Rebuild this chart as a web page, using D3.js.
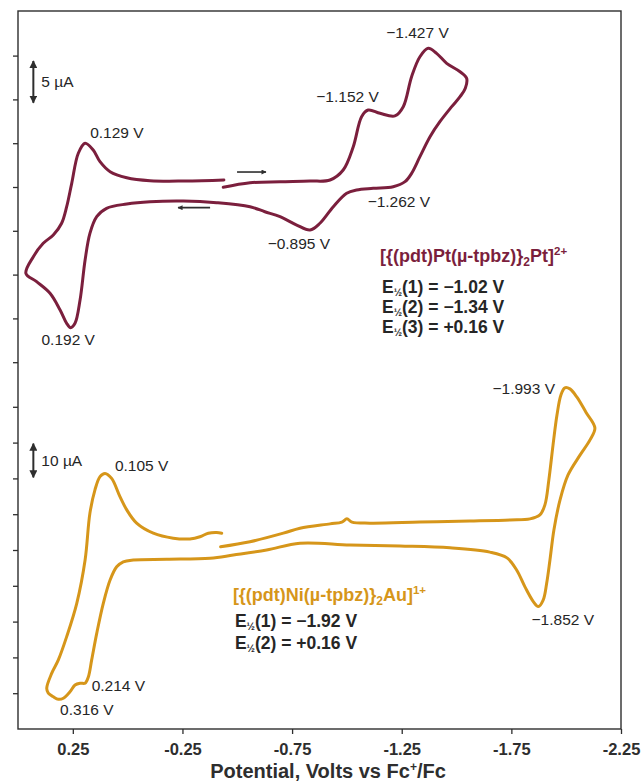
<!DOCTYPE html>
<html>
<head>
<meta charset="utf-8">
<script src="https://cdn.jsdelivr.net/npm/d3@7"></script>
<style>
  body { margin: 0; background: #fff; }
  svg { display: block; font-family: "Liberation Sans", Arial, Helvetica, sans-serif; }
</style>
</head>
<body>
<svg id="chart" width="643" height="781"></svg>
<script>
// ---- axis ticks ----
const potentialTicks = [0.25, -0.25, -0.75, -1.25, -1.75, -2.25];   // V vs Fc+/Fc
const ptCurrentTicks = [15, 10, 5, 0, -5, -10, -15, -20];          // µA, upper trace
const auCurrentTicks = [40, 30, 20, 10, 0, -10, -20, -30, -40];    // µA, lower trace

// ---- [{(pdt)Pt(µ-tpbz)}2Pt]2+ : potential (V) and current (µA), in scan order ----
const ptPotential = [
  -0.436, -0.558, -0.695, -0.832, -0.923, -0.983, -1.029, -1.067, -1.097, -1.151,
  -1.219, -1.257, -1.295, -1.333, -1.371, -1.409, -1.455, -1.516, -1.546,
  -1.540, -1.516, -1.478, -1.424, -1.379, -1.333, -1.295, -1.265, -1.211, -1.120,
  -1.044, -0.999, -0.938, -0.877, -0.832, -0.771, -0.695, -0.626, -0.558, -0.406,
  -0.254, -0.102, 0.004, 0.096, 0.141, 0.172, 0.194, 0.217, 0.240, 0.260,
  0.278, 0.308, 0.354, 0.415, 0.464,
  0.430, 0.385, 0.339, 0.301, 0.278, 0.255, 0.225, 0.194, 0.157, 0.126,
  0.080, 0.004, -0.102, -0.254, -0.439
];
const ptCurrent = [
  -0.03, 0.49, 0.60, 0.68, 0.80, 1.94, 4.60, 8.03, 8.79, 8.41,
  8.11, 9.17, 12.59, 14.87, 15.83, 15.26, 14.12, 13.16, 12.41,
  11.27, 10.31, 9.17, 7.45, 5.74, 3.46, 1.56, 0.61, 0.03, -0.15,
  -0.34, -0.72, -2.25, -4.14, -4.91, -4.34, -3.39, -2.82, -2.25, -1.79,
  -1.60, -1.68, -1.94, -2.43, -3.39, -5.29, -8.33, -12.90, -15.56, -16.06,
  -15.56, -14.04, -12.13, -10.81, -9.85,
  -7.96, -6.43, -5.48, -4.14, -2.25, 0.42, 3.85, 4.99, 4.22, 2.89,
  1.75, 1.06, 0.72, 0.68, 0.80
];

// ---- [{(pdt)Ni(µ-tpbz)}2Au]1+ : potential (V) and current (µA), in scan order ----
const auPotential = [
  -0.424, -0.558, -0.710, -0.786, -0.923, -0.977, -1.000, -1.023, -1.105, -1.333,
  -1.561, -1.744, -1.835, -1.880, -1.903, -1.921, -1.940, -1.958, -1.976, -1.994,
  -2.017, -2.049, -2.090, -2.131,
  -2.108, -2.063, -2.008, -1.972, -1.944, -1.926, -1.911, -1.895, -1.873, -1.850,
  -1.812, -1.774, -1.730, -1.652, -1.470, -1.242, -1.014, -0.786, -0.634, -0.482,
  -0.376, -0.178, -0.026, 0.020, 0.050, 0.080, 0.111, 0.141, 0.164, 0.179,
  0.194, 0.217, 0.240, 0.263, 0.293, 0.316, 0.339, 0.362, 0.369,
  0.346, 0.316, 0.278, 0.232, 0.194, 0.172, 0.149, 0.126, 0.103, 0.073,
  0.035, 0.004, -0.041, -0.117, -0.208, -0.284, -0.330, -0.368, -0.406, -0.429
];
const auCurrent = [
  0.9, 2.3, 4.7, 6.1, 7.3, 7.8, 8.7, 7.8, 7.5, 7.8,
  8.1, 8.4, 8.7, 9.8, 12.6, 19.6, 29.3, 37.7, 43.3, 45.3,
  45.0, 42.7, 38.5, 34.1,
  30.7, 26.5, 20.9, 14.0, 5.6, -2.8, -9.3, -14.0, -15.8, -14.4,
  -10.3, -5.6, -2.2, -0.6, 0.6, 1.1, 1.4, 1.9, 0.0, -1.4,
  -2.3, -2.6, -2.8, -3.3, -4.7, -8.4, -14.9, -23.3, -30.7, -35.4,
  -37.2, -37.2, -37.7, -39.6, -41.4, -41.7, -41.0, -40.0, -38.6,
  -34.4, -30.7, -24.2, -14.9, -2.8, 10.3, 16.8, 20.5, 21.4, 20.0,
  14.9, 11.2, 7.5, 4.7, 3.3, 3.1, 3.7, 4.7, 4.9, 4.7
];

// ---- peak annotations (anchor in V / µA of the trace's own current scale) ----
const ptPeakLabels = [
  { text: "\u22121.427 V", v: -1.322, i: 17.0,  anchor: "middle" },
  { text: "\u22121.152 V", v: -1.003, i: 9.7,   anchor: "middle" },
  { text: "\u22121.262 V", v: -1.237, i: -2.28, anchor: "middle" },
  { text: "\u22120.895 V", v: -0.781, i: -7.08, anchor: "middle" },
  { text: "0.129 V",       v: 0.049,  i: 5.59,  anchor: "middle" },
  { text: "0.192 V",       v: 0.271,  i: -18.04, anchor: "middle" }
];
const auPeakLabels = [
  { text: "\u22121.993 V", v: -1.949, i: 43.6,  anchor: "end" },
  { text: "0.105 V",       v: 0.058,  i: 22.1,  anchor: "start" },
  { text: "0.214 V",       v: 0.164,  i: -39.4, anchor: "start" },
  { text: "0.316 V",       v: 0.308,  i: -46.1, anchor: "start" },
  { text: "\u22121.852 V", v: -1.842, i: -20.9, anchor: "start" }
];
const ptHalfWave = ["\u22121.02", "\u22121.34", "+0.16"];
const auHalfWave = ["\u22121.92", "+0.16"];

// ---- layout & style ----
const frame = { left: 18, right: 621, top: 11, bottom: 729 };
const ptColor = "#7b1f3d";
const auColor = "#d6961a";
const ink = "#2e2e2e";

const svg = d3.select("#chart");

const x = d3.scaleLinear().domain([0.5, -2.25]).range([frame.left, frame.right]);
const yPt = d3.scaleLinear().domain([-20, 15]).range([362.2, 55.6]);
const yAu = d3.scaleLinear().domain([-40, 40]).range([693.2, 406.8]);

// arrowhead markers
const defs = svg.append("defs");
defs.append("marker")
  .attr("id", "head")
  .attr("viewBox", "0 0 10 10")
  .attr("refX", 9).attr("refY", 5)
  .attr("markerUnits", "userSpaceOnUse")
  .attr("markerWidth", 8).attr("markerHeight", 8)
  .attr("orient", "auto-start-reverse")
  .append("path").attr("d", "M0,0 L10,5 L0,10 z").attr("fill", ink);
defs.append("marker")
  .attr("id", "headSmall")
  .attr("viewBox", "0 0 10 10")
  .attr("refX", 9).attr("refY", 5)
  .attr("markerUnits", "userSpaceOnUse")
  .attr("markerWidth", 7).attr("markerHeight", 5)
  .attr("orient", "auto-start-reverse")
  .append("path").attr("d", "M0,0 L10,5 L0,10 z").attr("fill", ink);

// plot frame
svg.append("rect")
  .attr("x", frame.left).attr("y", frame.top)
  .attr("width", frame.right - frame.left).attr("height", frame.bottom - frame.top)
  .attr("fill", "none").attr("stroke", ink).attr("stroke-width", 1.4);

// left ticks for both traces
[[yPt, ptCurrentTicks], [yAu, auCurrentTicks]].forEach(([scale, ticks]) => {
  const g = svg.append("g")
    .attr("transform", `translate(${frame.left},0)`)
    .call(d3.axisLeft(scale).tickValues(ticks).tickSize(5).tickFormat(""));
  g.select(".domain").remove();
  g.selectAll("line").attr("stroke", ink).attr("stroke-width", 1.3);
});

// potential axis
const gx = svg.append("g")
  .attr("transform", `translate(0,${frame.bottom})`)
  .call(d3.axisBottom(x).tickValues(potentialTicks).tickSize(5).tickPadding(9)
    .tickFormat(d => d.toFixed(2)));
gx.select(".domain").remove();
gx.selectAll("line").attr("stroke", ink).attr("stroke-width", 1.3);
gx.selectAll("text")
  .attr("fill", ink)
  .style("font-family", '"Liberation Sans", Arial, sans-serif')
  .style("font-size", "16.5px").style("font-weight", "bold");

const xTitle = svg.append("text")
  .attr("x", 328).attr("y", 778)
  .attr("text-anchor", "middle")
  .attr("fill", ink)
  .style("font-size", "20px").style("font-weight", "bold");
xTitle.append("tspan").text("Potential, Volts vs Fc");
xTitle.append("tspan").attr("dy", -7).style("font-size", "12px").text("+");
xTitle.append("tspan").attr("dy", 7).text("/Fc");

// voltammograms
function drawTrace(pot, cur, yScale, color) {
  const pts = pot.map((v, k) => [v, cur[k]]);
  svg.append("path")
    .datum(pts)
    .attr("fill", "none")
    .attr("stroke", color)
    .attr("stroke-width", 3)
    .attr("stroke-linejoin", "round")
    .attr("stroke-linecap", "round")
    .attr("d", d3.line()
      .x(d => x(d[0]))
      .y(d => yScale(d[1]))
      .curve(d3.curveCatmullRom.alpha(0.5)));
}
drawTrace(ptPotential, ptCurrent, yPt, ptColor);
drawTrace(auPotential, auCurrent, yAu, auColor);

// peak labels
function drawLabels(labels, yScale) {
  svg.append("g").selectAll("text")
    .data(labels).join("text")
    .attr("x", d => x(d.v)).attr("y", d => yScale(d.i))
    .attr("text-anchor", d => d.anchor)
    .attr("fill", "#262626")
    .style("font-size", "15.5px")
    .text(d => d.text);
}
drawLabels(ptPeakLabels, yPt);
drawLabels(auPeakLabels, yAu);

// current scale bars
function scaleBar(v, i0, di, yScale, label) {
  svg.append("line")
    .attr("x1", x(v)).attr("x2", x(v))
    .attr("y1", yScale(i0) - 1).attr("y2", yScale(i0 + di) + 1)
    .attr("stroke", ink).attr("stroke-width", 2)
    .attr("marker-start", "url(#head)").attr("marker-end", "url(#head)");
  svg.append("text")
    .attr("x", x(v) + 8).attr("y", (yScale(i0) + yScale(i0 + di)) / 2 + 5.5)
    .attr("fill", "#262626").style("font-size", "15.5px")
    .text(label);
}
scaleBar(0.430, 9.5, 5, yPt, "5 \u00b5A");
scaleBar(0.430, 20, 10, yAu, "10 \u00b5A");

// scan-direction arrows on the upper trace
[[-0.499, -0.631, 1.71], [-0.376, -0.230, -2.36]].forEach(([v0, v1, i]) => {
  svg.append("line")
    .attr("x1", x(v0)).attr("x2", x(v1))
    .attr("y1", yPt(i)).attr("y2", yPt(i))
    .attr("stroke", ink).attr("stroke-width", 1.6)
    .attr("marker-end", "url(#headSmall)");
});

// compound names and half-wave potentials
function legend(v, yBase, color, metal, centre, charge, halfWaves, gap, lineH) {
  const t = svg.append("text")
    .attr("x", x(v)).attr("y", yBase)
    .attr("fill", color)
    .style("font-size", "18px").style("font-weight", "bold");
  t.append("tspan").text(`[{(pdt)${metal}(\u00b5-tpbz)}`);
  t.append("tspan").attr("dy", 4).style("font-size", "12px").text("2");
  t.append("tspan").attr("dy", -4).text(`${centre}]`);
  t.append("tspan").attr("dy", -7).style("font-size", "11.5px").text(charge);
  halfWaves.forEach((e, k) => {
    const line = svg.append("text")
      .attr("x", x(v) + 2).attr("y", yBase + gap + k * lineH)
      .attr("fill", "#262626")
      .style("font-size", "17.5px").style("font-weight", "bold");
    line.append("tspan").text("E");
    line.append("tspan").attr("dy", 3).style("font-size", "10px").text("\u00bd");
    line.append("tspan").attr("dy", -3).text(`(${k + 1}) = ${e} V`);
  });
}
legend(-1.151, yPt(-8.56), ptColor, "Pt", "Pt", "2+", ptHalfWave, 31, 20);
legend(-0.480, yAu(-14.2), auColor, "Ni", "Au", "1+", auHalfWave, 26, 22);
</script>
</body>
</html>
